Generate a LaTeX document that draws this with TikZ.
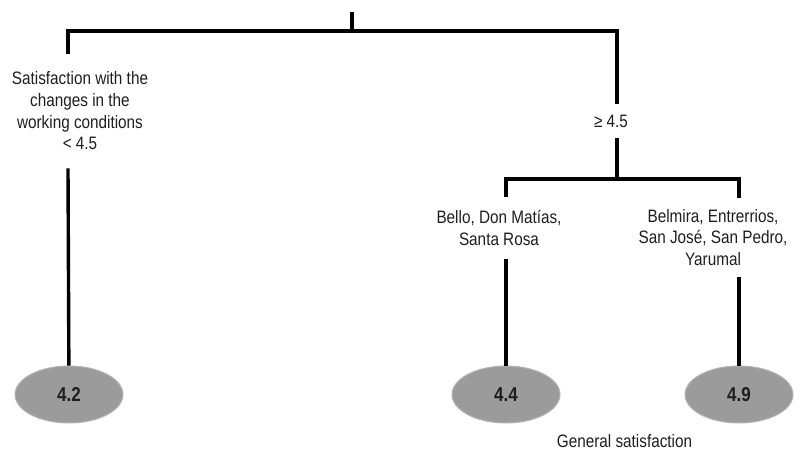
\documentclass[tikz,border=0pt]{standalone}
\usepackage{fontspec}
\setmainfont{Liberation Sans}[FakeStretch=0.85]
\usepackage{tikz}
\usetikzlibrary{shapes.geometric}
\definecolor{leafgray}{RGB}{155,155,155}
\definecolor{inkgray}{RGB}{30,30,30}

\begin{document}
\begin{tikzpicture}[x=1pt,y=-1pt,
    branch/.style={line width=3.4pt,black},
    cond/.style={align=center,inner xsep=0pt,inner ysep=13pt,text=inkgray,
      font=\fontsize{18}{21.7}\selectfont},
    leaf/.style={ellipse,fill=leafgray,draw=leafgray!75!white,line width=1pt,
      minimum width=108pt,minimum height=57pt,inner sep=0pt,text=inkgray,
      font=\fontsize{20}{22}\selectfont\bfseries}]
  \useasboundingbox (0,0) rectangle (802,461);
  % junctions
  \coordinate (root) at (352,12);
  \coordinate (split) at (352,31);
  \coordinate (lc) at (68,31);
  \coordinate (rc) at (617,31);
  \coordinate (rsplit) at (617,179);
  \coordinate (bc) at (506,179);
  \coordinate (yc) at (739,179);
  % split labels
  \node[cond,inner ysep=18pt] (lowlbl) at (80,111) {Satisfaction with the\\changes in the\\working conditions\\< 4.5};
  \node[cond,inner ysep=11pt] (highlbl) at (611,121) {≥ 4.5};
  \node[cond] (bello) at (499,228) {Bello, Don Matías,\\Santa Rosa};
  \node[cond,inner ysep=11pt] (yarumal) at (713,237.5) {Belmira, Entrerrios,\\San José, San Pedro,\\Yarumal};
  % leaves
  \node[leaf] (e42) at (69,394.5) {4.2};
  \node[leaf] (e44) at (506,394.5) {4.4};
  \node[leaf] (e49) at (739,394.5) {4.9};
  \node[cond,anchor=base,inner sep=0pt] (caption) at (624.5,447) {General satisfaction};
  % tree
  \draw[branch] (root) -- (split);
  \draw[branch] (lowlbl.north -| lc) -- (lc) -- (rc) -- (highlbl.north -| rc);
  \draw[branch] (highlbl.south -| rc) -- (rsplit);
  \draw[branch] (bello.north -| bc) -- (bc) -- (yc) -- (yarumal.north -| yc);
  \draw[branch] (lowlbl.south -| lc) -- (e42);
  \draw[branch] (bello.south -| bc) -- (e44);
  \draw[branch] (yarumal.south -| yc) -- (e49);
\end{tikzpicture}
\end{document}
